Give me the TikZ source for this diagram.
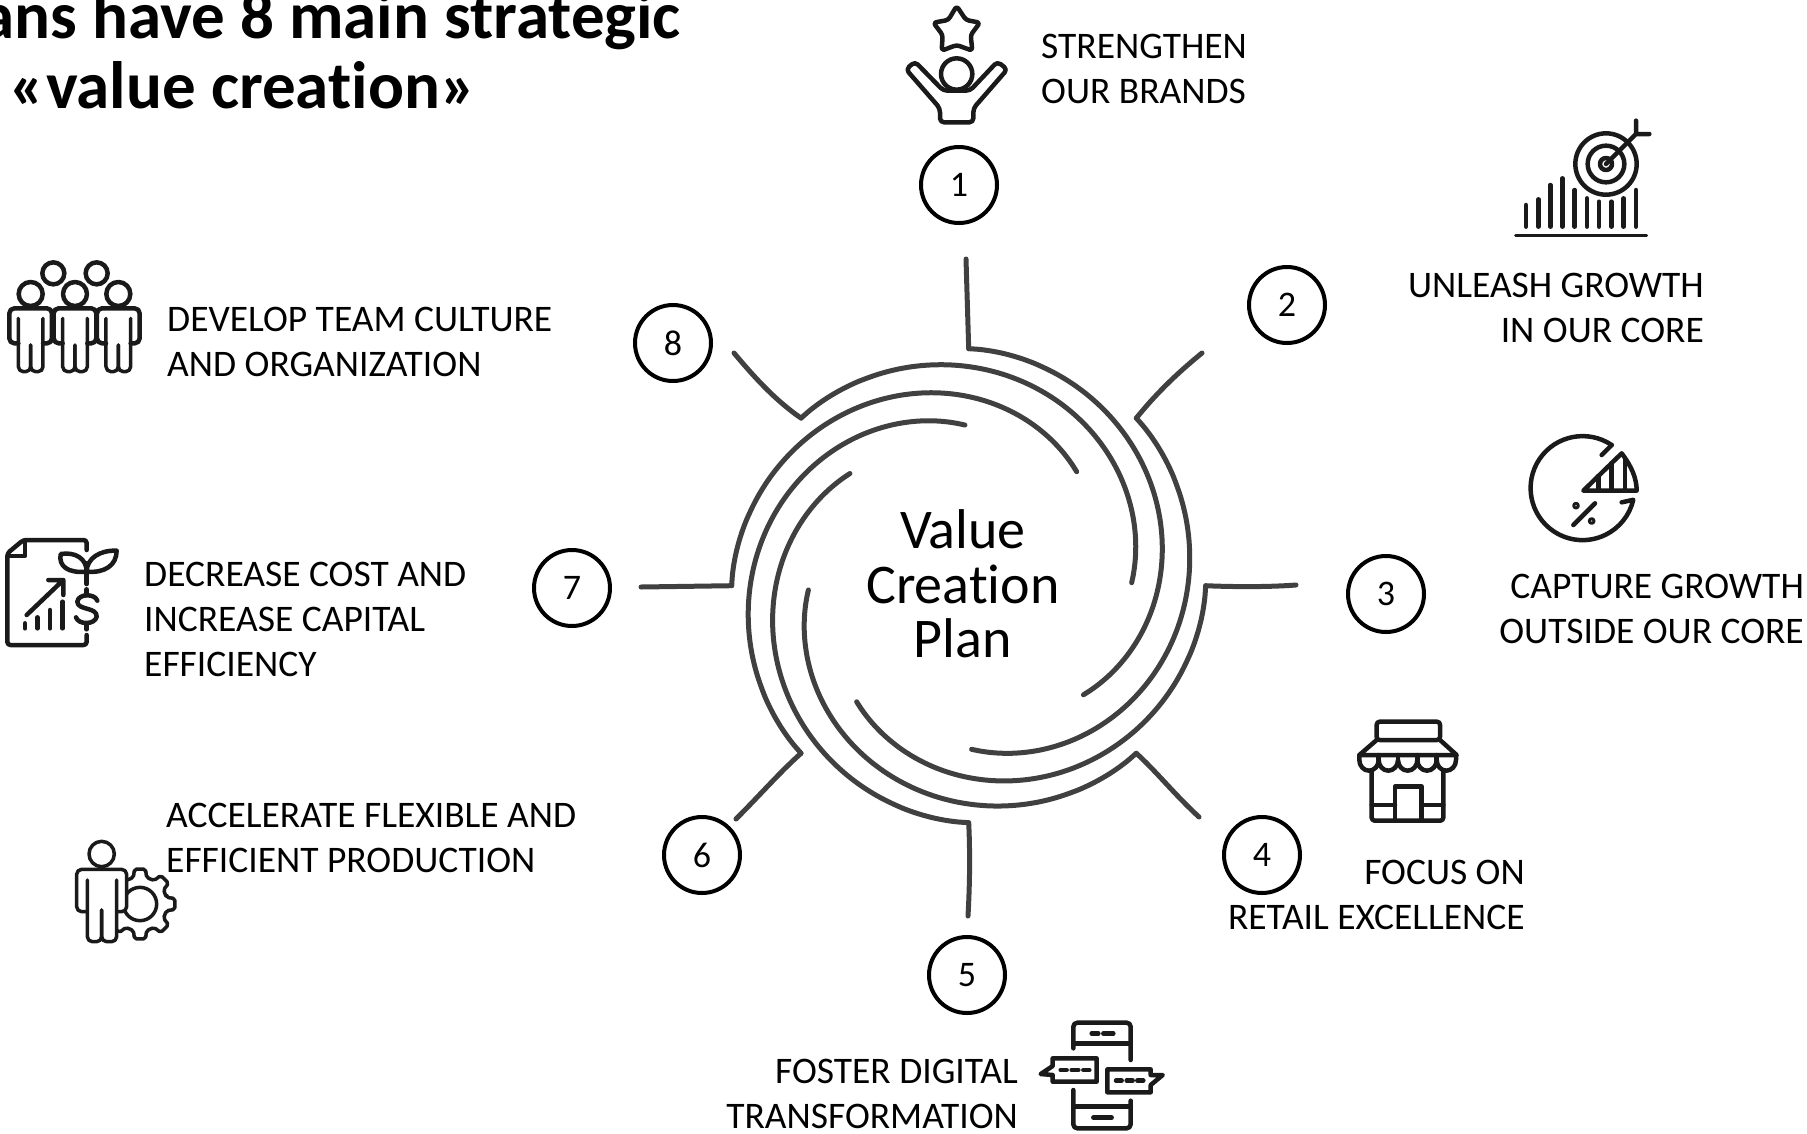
\documentclass[tikz,border=0pt]{standalone}
\usepackage{fontspec}
\setmainfont[Ligatures=NoCommon]{Carlito}
\definecolor{armc}{HTML}{404040}
\definecolor{icoc}{HTML}{1A1A1A}
\tikzset{
  armline/.style={draw=armc,line width=5pt,line cap=round,line join=round},
  numc/.style={circle,draw=black,line width=4pt,minimum size=76pt,inner sep=0pt,font=\fontsize{36}{40}\selectfont},
  lbl/.style={inner sep=0pt,font=\fontsize{37.5}{45}\selectfont,text=black},
  lbll/.style={lbl,anchor=west,align=left},
  lblr/.style={lbl,anchor=east,align=right},
  ico/.style={draw=icoc,line width=4.5pt,line cap=round,line join=round},
  icofine/.style={ico,line width=3.5pt},
}
% one arm of the spiral: start angle, end angle, end radius (crop coordinates, centre 806,737)
\newcommand{\spiralarm}[3]{%
  \draw[armline] plot[domain=0.0001:1,samples=50,smooth,variable=\s]
   ({806+(711+(#3-711)*pow(\s,1.3))*cos(#1+(#2-#1)*\s)},
    {737-(711+(#3-711)*pow(\s,1.3))*sin(#1+(#2-#1)*\s)});}
\begin{document}
\begin{tikzpicture}[x=1pt,y=-1pt]
\useasboundingbox (0,0) rectangle (1807,1133);
% title
\node[inner sep=0pt,anchor=base east,font=\bfseries\fontsize{67}{70}\selectfont] (title1) at (681,38) {ans have 8 main strategic};
\node[inner sep=0pt,anchor=base,font=\bfseries\fontsize{67}{70}\selectfont] (title2) at (243,108) {«value creation»};
% centre
\node[inner sep=0pt,align=center,font=\fontsize{56}{54.5}\selectfont] (centre) at (963,584) {Value\\Creation\\Plan};
% number circles
\node[numc] (n1) at (959,185) {1};
\node[numc] (n2) at (1287,305) {2};
\node[numc] (n3) at (1386,594) {3};
\node[numc] (n4) at (1262,855) {4};
\node[numc] (n5) at (967,975) {5};
\node[numc] (n6) at (702,855) {6};
\node[numc] (n7) at (572,588) {7};
\node[numc] (n8) at (673,343) {8};
% labels
\node[lbll] (t1) at (1041,69) {STRENGTHEN\\OUR BRANDS};
\node[lblr] (t2) at (1704,308) {UNLEASH GROWTH\\IN OUR CORE};
\node[lblr] (t3) at (1804,609) {CAPTURE GROWTH\\OUTSIDE OUR CORE};
\node[lblr] (t4) at (1525,895) {FOCUS ON\\RETAIL EXCELLENCE};
\node[lblr] (t5) at (1018,1094) {FOSTER DIGITAL\\TRANSFORMATION};
\node[lbll] (t6) at (166,838) {ACCELERATE FLEXIBLE AND\\EFFICIENT PRODUCTION};
\node[lbll] (t7) at (144,619) {DECREASE COST AND\\INCREASE CAPITAL\\EFFICIENCY};
\node[lbll] (t8) at (167,342) {DEVELOP TEAM CULTURE\\AND ORGANIZATION};
% stem ends and corners
\coordinate (s1) at (966,259);  \coordinate (c1) at (968.7,348.7);
\coordinate (s2) at (1202,353); \coordinate (c2) at (1136.3,418.1);
\coordinate (s3) at (1296,585); \coordinate (c3) at (1205.7,585.7);
\coordinate (s4) at (1199,817); \coordinate (c4) at (1136.3,753.3);
\coordinate (s5) at (968,916);  \coordinate (c5) at (968.7,822.7);
\coordinate (s6) at (736,819);  \coordinate (c6) at (801,753.3);
\coordinate (s7) at (641,587);  \coordinate (c7) at (731.7,585.7);
\coordinate (s8) at (734,353);  \coordinate (c8) at (801,418.1);
\draw[armline] (s1) -- (c1);
\draw[armline] (s2) .. controls (1175,375) and (1155,395) .. (c2);
\draw[armline] (s3) .. controls (1270,587) and (1235,587) .. (c3);
\draw[armline] (s4) .. controls (1175,795) and (1155,770) .. (c4);
\draw[armline] (s5) .. controls (970,880) and (970,850) .. (c5);
\draw[armline] (s6) .. controls (760,795) and (780,772) .. (c6);
\draw[armline] (s7) -- (c7);
\draw[armline] (s8) .. controls (755,378) and (775,400) .. (c8);
% spiral arms, drawn in the coordinates of the 3x crop at (700,340)
\begin{scope}[shift={(700,340)},scale=1/3]
\spiralarm{90}{-43.6}{475}
\spiralarm{45}{-89}{491}
\spiralarm{0}{-134}{484}
\spiralarm{-45}{-178.5}{481}
\spiralarm{-90}{-223.4}{490}
\spiralarm{-135}{-268.7}{482}
\spiralarm{-180}{-313.5}{471}
\spiralarm{-225}{-359}{489}
\end{scope}
% icon 1
\begin{scope}[shift={(880,0)},scale=1/3]
\draw[ico,rounded corners=3pt] (230,18) -- (258,60) -- (300,68) -- (272,105) -- (277,152) -- (230,135) -- (185,152) -- (188,105) -- (160,68) -- (205,60) -- cycle;
\draw[ico] (230,222) circle[radius=47];
\draw[ico,rounded corners=4pt] (190,272) -- (105,185) -- (78,208) -- (180,325) -- (180,367) -- (280,367) -- (280,325) -- (382,208) -- (352,185) -- (270,272) -- cycle;
\end{scope}
% icon 2
\begin{scope}[shift={(1500,110)},scale=1/3]
\draw[ico] (318,162) circle[radius=92] (318,162) circle[radius=55] (318,162) circle[radius=18];
\draw[ico] (318,162) -- (408,72) (408,32) -- (408,72) -- (448,72);
\draw[ico] (78,350) -- (78,285) (115,350) -- (115,268) (151,350) -- (151,225) (187,350) -- (187,205) (224,350) -- (224,240) (261,350) -- (261,265) (297,350) -- (297,275) (334,350) -- (334,275) (371,350) -- (371,265) (408,350) -- (408,240);
\draw[ico,line width=3pt] (47,377) -- (440,377);
\end{scope}
% icon 3
\begin{scope}[shift={(1510,425)},scale=1/3]
\draw[ico] (275,90) -- (305,60);
\draw[ico] (305,60) arc[start angle=-56,end angle=-347,radius=156] -- (335,232);
\draw[ico] (220,197) -- (335,85) .. controls (365,125) and (380,160) .. (380,197) -- cycle;
\draw[ico] (265,197) -- (265,153) (305,197) -- (305,114) (345,197) -- (345,100);
\draw[ico] (190,300) -- (255,235);
\draw[ico,line width=3pt] (198,242) circle[radius=7] (245,288) circle[radius=7];
\end{scope}
% icon 4
\begin{scope}[shift={(1340,710)},scale=1/3]
\draw[ico,rounded corners=3pt] (110,90) -- (110,35) -- (300,35) -- (300,90) -- cycle;
\draw[ico] (110,90) -- (58,135) -- (350,135) -- (300,90);
\draw[ico] (58,135) -- (58,150) arc[start angle=180,end angle=0,x radius=29,y radius=32] arc[start angle=180,end angle=0,x radius=29,y radius=32] arc[start angle=180,end angle=0,x radius=29,y radius=32] arc[start angle=180,end angle=0,x radius=29,y radius=32] arc[start angle=180,end angle=0,x radius=29,y radius=32] -- (348,135);
\draw[ico] (116,135) -- (116,150) (174,135) -- (174,150) (232,135) -- (232,150) (290,135) -- (290,150);
\draw[ico,rounded corners=3pt] (95,182) -- (95,332) -- (310,332) -- (310,182);
\draw[ico] (165,332) -- (165,230) -- (245,230) -- (245,332) (95,285) -- (165,285) (245,285) -- (310,285);
\end{scope}
% icon 5
\begin{scope}[shift={(1030,1010)},scale=1/3]
\draw[ico,rounded corners=4pt] (130,115) -- (130,38) -- (302,38) -- (302,150);
\draw[ico] (130,100) -- (302,100) (185,70) -- (205,70) (220,70) -- (250,70);
\draw[ico] (68,145) -- (200,145) -- (200,215) -- (68,215) -- (68,195) -- (32,192) -- (68,168) -- cycle;
\draw[ico] (92,180) -- (110,180) (125,180) -- (145,180) (160,180) -- (178,180);
\draw[ico] (232,178) -- (362,178) -- (362,195) -- (398,195) -- (362,225) -- (362,247) -- (232,247) -- cycle;
\draw[ico] (258,212) -- (275,212) (290,212) -- (308,212) (322,212) -- (340,212);
\draw[ico,rounded corners=4pt] (130,240) -- (130,355) -- (302,355) -- (302,272);
\draw[ico] (130,290) -- (302,290) (190,323) -- (245,323);
\end{scope}
% icon 6
\begin{scope}[shift={(60,830)},scale=1/3]
\begin{scope}[shift={(240,222)}]
\draw[icofine,rounded corners=2pt] (0-14:82)
  \foreach \a in {0,45,...,315} { -- (\a-14:82) -- (\a-9:106) -- (\a+9:106) -- (\a+14:82) } -- cycle;
\draw[icofine] (0,0) circle[radius=50];
\end{scope}
\fill[white,rounded corners=5pt] (50,118) rectangle (200,245) (82,118) rectangle (170,335);
\draw[icofine] (125,72) circle[radius=38];
\draw[icofine,rounded corners=5pt] (82,245) -- (50,245) -- (50,118) -- (200,118) -- (200,245) -- (170,245);
\draw[icofine,rounded corners=5pt] (82,150) -- (82,335) -- (125,335) -- (125,240);
\draw[icofine,rounded corners=5pt] (125,240) -- (125,335) -- (170,335) -- (170,150);
\end{scope}
% icon 7
\begin{scope}[shift={(0,530)},scale=1/3]
\draw[ico,rounded corners=3pt] (260,60) -- (260,30) -- (70,30) -- (22,70) -- (22,345) -- (260,345) -- (260,315);
\draw[ico] (75,35) -- (75,78) -- (25,78);
\draw[ico] (260,100) -- (260,162);
\draw[ico] (260,125) .. controls (205,130) and (175,110) .. (182,72) .. controls (225,65) and (260,85) .. (260,125);
\draw[ico] (260,125) .. controls (315,130) and (350,105) .. (350,62) .. controls (300,60) and (260,85) .. (260,125);
\draw[ico] (292,212) .. controls (285,190) and (235,190) .. (232,215) .. controls (232,242) and (292,230) .. (290,260) .. controls (285,285) and (235,285) .. (228,262);
\draw[ico] (260,178) -- (260,195) (260,280) -- (260,298);
\draw[ico] (80,255) -- (190,150) (145,150) -- (190,150) -- (190,195);
\draw[ico] (75,280) -- (75,295) (112,262) -- (112,295) (150,240) -- (150,295) (188,215) -- (188,295);
\end{scope}
% icon 8
\begin{scope}[shift={(0,250)},scale=1/3]
\draw[ico] (160,70) circle[radius=33] (290,70) circle[radius=33];
\foreach \cx in {92,225,355} {
  \draw[ico] (\cx,132) circle[radius=36];
  \draw[ico,rounded corners=5pt] (\cx-37,280) -- (\cx-64,280) -- (\cx-64,175) -- (\cx+64,175) -- (\cx+64,280) -- (\cx+37,280);
  \draw[icofine,rounded corners=5pt] (\cx-37,205) -- (\cx-37,365) -- (\cx,365) -- (\cx,285);
  \draw[icofine,rounded corners=5pt] (\cx,285) -- (\cx,365) -- (\cx+37,365) -- (\cx+37,205);
}
\end{scope}
\end{tikzpicture}
\end{document}
